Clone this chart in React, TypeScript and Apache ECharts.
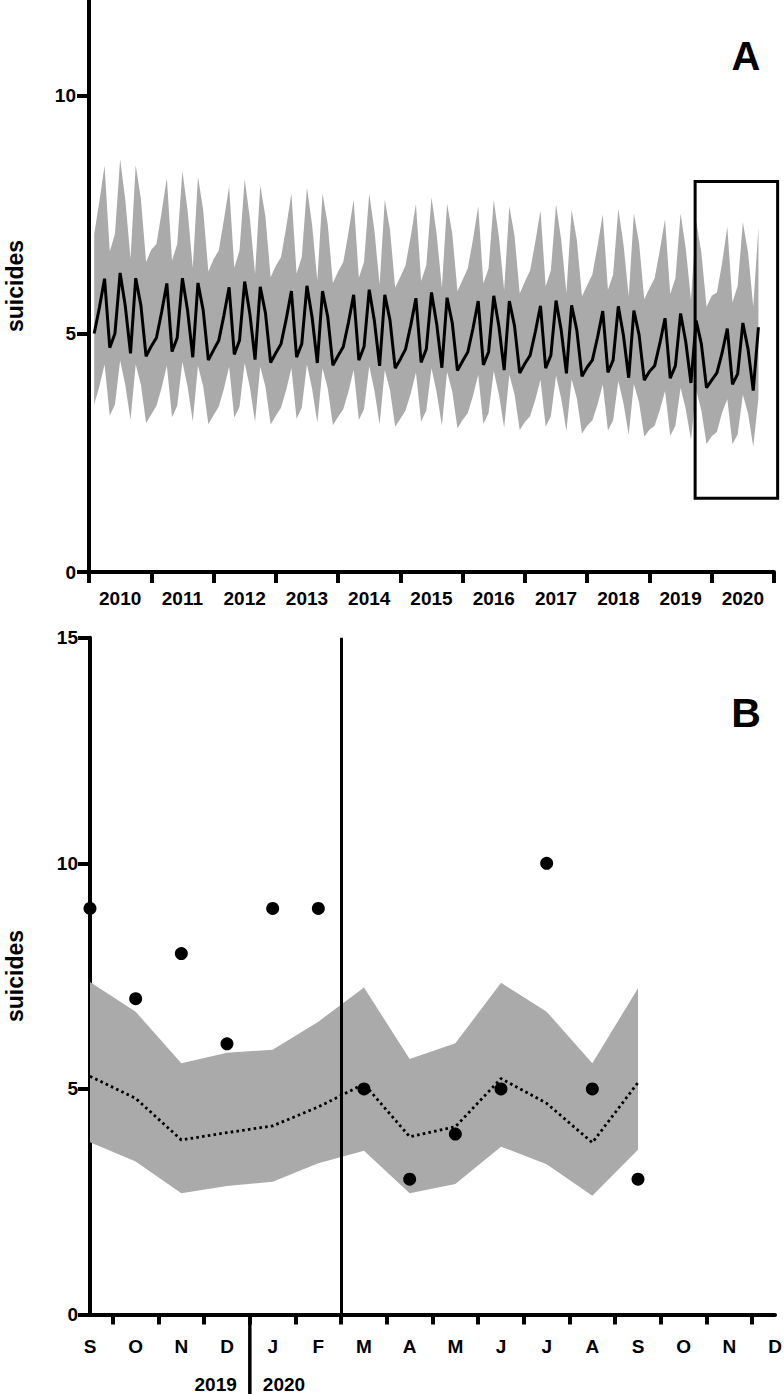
import React, { useEffect, useRef } from "react";
import * as echarts from "echarts";

const FONT = "'Liberation Sans', Arial, Helvetica, sans-serif";

const yearLabels = ["2010", "2011", "2012", "2013", "2014", "2015", "2016", "2017", "2018", "2019", "2020"];
const yTicksA = [0, 5, 10];

// Monthly expected values, Jan 2010 .. Sep 2020
const meanA = [
  5.01, 5.55, 6.16, 4.71, 5.01, 6.28, 5.58, 4.59, 6.17, 5.6, 4.53, 4.74,
  4.92, 5.46, 6.06, 4.63, 4.92, 6.17, 5.49, 4.51, 6.07, 5.5, 4.45, 4.66,
  4.86, 5.39, 5.98, 4.57, 4.86, 6.1, 5.42, 4.46, 5.99, 5.44, 4.4, 4.6,
  4.79, 5.31, 5.9, 4.51, 4.79, 6.01, 5.34, 4.39, 5.9, 5.36, 4.34, 4.54,
  4.73, 5.24, 5.82, 4.45, 4.73, 5.93, 5.27, 4.33, 5.82, 5.29, 4.28, 4.47,
  4.68, 5.18, 5.75, 4.4, 4.68, 5.87, 5.21, 4.29, 5.76, 5.23, 4.23, 4.43,
  4.62, 5.12, 5.69, 4.35, 4.62, 5.8, 5.15, 4.24, 5.69, 5.17, 4.18, 4.38,
  4.55, 5.04, 5.59, 4.28, 4.55, 5.7, 5.07, 4.17, 5.6, 5.08, 4.11, 4.3,
  4.45, 4.93, 5.48, 4.19, 4.45, 5.58, 4.96, 4.08, 5.49, 4.98, 4.03, 4.21,
  4.33, 4.8, 5.33, 4.07, 4.33, 5.43, 4.83, 3.97, 5.28, 4.79, 3.87, 4.03,
  4.18, 4.6, 5.11, 3.94, 4.16, 5.23, 4.68, 3.81, 5.14,
];

const upperA = [
  7.1, 7.78, 8.53, 6.73, 7.1, 8.67, 7.81, 6.58, 8.54, 7.84, 6.51, 6.77,
  6.89, 7.56, 8.28, 6.54, 6.89, 8.42, 7.59, 6.39, 8.3, 7.61, 6.31, 6.57,
  6.75, 7.4, 8.1, 6.39, 6.75, 8.25, 7.43, 6.26, 8.12, 7.46, 6.19, 6.43,
  6.61, 7.24, 7.95, 6.27, 6.61, 8.08, 7.28, 6.12, 7.95, 7.31, 6.07, 6.31,
  6.51, 7.13, 7.82, 6.18, 6.51, 7.95, 7.17, 6.03, 7.82, 7.19, 5.97, 6.2,
  6.44, 7.05, 7.73, 6.11, 6.44, 7.87, 7.09, 5.97, 7.74, 7.11, 5.9, 6.14,
  6.38, 6.99, 7.68, 6.06, 6.38, 7.81, 7.03, 5.92, 7.68, 7.06, 5.85, 6.1,
  6.33, 6.93, 7.59, 6.0, 6.33, 7.72, 6.97, 5.86, 7.6, 6.98, 5.79, 6.02,
  6.25, 6.85, 7.51, 5.93, 6.25, 7.63, 6.88, 5.79, 7.53, 6.91, 5.73, 5.96,
  6.17, 6.76, 7.41, 5.84, 6.17, 7.53, 6.79, 5.72, 7.37, 6.71, 5.57, 5.8,
  5.87, 6.49, 7.25, 5.66, 6.01, 7.35, 6.71, 5.57, 7.23,
];

const lowerA = [
  3.52, 3.9, 4.36, 3.28, 3.52, 4.44, 3.92, 3.19, 4.36, 3.93, 3.13, 3.31,
  3.49, 3.87, 4.33, 3.25, 3.49, 4.41, 3.89, 3.16, 4.33, 3.9, 3.11, 3.29,
  3.47, 3.85, 4.31, 3.24, 3.47, 4.39, 3.88, 3.15, 4.31, 3.89, 3.1, 3.28,
  3.45, 3.82, 4.28, 3.22, 3.45, 4.36, 3.84, 3.13, 4.28, 3.86, 3.08, 3.26,
  3.42, 3.79, 4.24, 3.19, 3.42, 4.32, 3.81, 3.1, 4.24, 3.82, 3.05, 3.22,
  3.39, 3.75, 4.19, 3.16, 3.39, 4.28, 3.77, 3.07, 4.2, 3.79, 3.02, 3.19,
  3.34, 3.7, 4.14, 3.11, 3.34, 4.22, 3.72, 3.03, 4.14, 3.73, 2.98, 3.15,
  3.27, 3.62, 4.04, 3.05, 3.27, 4.12, 3.64, 2.96, 4.05, 3.65, 2.91, 3.07,
  3.18, 3.52, 3.94, 2.97, 3.18, 4.01, 3.54, 2.88, 3.95, 3.56, 2.84, 2.99,
  3.07, 3.4, 3.8, 2.86, 3.07, 3.87, 3.42, 2.78, 3.82, 3.39, 2.69, 2.85,
  2.94, 3.35, 3.63, 2.69, 2.89, 3.72, 3.33, 2.63, 3.65,
];

// Panel B: Sep 2019 .. Dec 2020
const monthLabelsB = ["S", "O", "N", "D", "J", "F", "M", "A", "M", "J", "J", "A", "S", "O", "N", "D"];
const observedB = [9, 7, 8, 6, 9, 9, 5, 3, 4, 5, 10, 5, 3];
const yTicksB = [0, 5, 10, 15];

const axisText = { color: "#000", fontSize: 19, fontWeight: "bold" as const, fontFamily: FONT };
const axisLineStyle = { color: "#000", width: 4 };

function bandSeries(xs: number[], lo: number[], hi: number[], xAxisIndex: number, yAxisIndex: number) {
  return {
    type: "custom",
    xAxisIndex,
    yAxisIndex,
    silent: true,
    clip: false,
    z: 1,
    data: [[xs[0], lo[0]]],
    renderItem: (params: any, api: any) => {
      if (params.dataIndex !== 0) return null;
      const top = hi.map((v, i) => api.coord([xs[i], v]));
      const bot = lo.map((v, i) => api.coord([xs[i], v])).reverse();
      return { type: "polygon", shape: { points: top.concat(bot) }, style: { fill: "#aaaaaa" } };
    },
  };
}

export default function App() {
  const ref = useRef<HTMLDivElement>(null);
  useEffect(() => {
    document.body.style.margin = "0";
    const chart = echarts.init(ref.current!, null, { renderer: "svg" });

    const xsA = meanA.map((_, i) => i + 1);
    const nB = observedB.length;
    const meanB = meanA.slice(meanA.length - nB);
    const upperB = upperA.slice(upperA.length - nB);
    const lowerB = lowerA.slice(lowerA.length - nB);
    const xsB = observedB.map((_, i) => i);
    const tickValsB = monthLabelsB.slice(1).map((_, i) => i + 0.5);
    const labelValsB = monthLabelsB.map((_, i) => i);

    chart.setOption({
      animation: false,
      backgroundColor: "#fff",
      grid: [
        { left: 89, right: 10, top: 0.6, height: 571.4, containLabel: false, outerBoundsMode: "none" },
        { left: 90, right: 9, top: 637.7, height: 676.8, containLabel: false, outerBoundsMode: "none" },
      ],
      xAxis: [
        {
          type: "category",
          gridIndex: 0,
          data: yearLabels,
          boundaryGap: true,
          axisLine: { show: true, onZero: false, lineStyle: axisLineStyle },
          axisTick: { show: true, length: 11, interval: 0, alignWithLabel: false, lineStyle: axisLineStyle },
          axisLabel: { interval: 0, margin: 17, ...axisText },
          splitLine: { show: false },
        },
        { type: "value", gridIndex: 0, min: 0, max: 132, show: false },
        {
          type: "value",
          gridIndex: 1,
          min: 0,
          max: 15,
          axisLine: { show: true, onZero: false, lineStyle: axisLineStyle },
          axisTick: { show: true, length: 10, customValues: tickValsB, lineStyle: axisLineStyle },
          axisLabel: {
            customValues: labelValsB,
            margin: 22,
            formatter: (v: number) => monthLabelsB[Math.round(v)] ?? "",
            ...axisText,
          },
          splitLine: { show: false },
        },
      ],
      yAxis: [
        {
          type: "value",
          gridIndex: 0,
          min: 0,
          max: 12,
          axisLine: { show: true, onZero: false, lineStyle: axisLineStyle },
          axisTick: { show: true, length: 12, customValues: yTicksA, lineStyle: axisLineStyle },
          axisLabel: { customValues: yTicksA, margin: 13, ...axisText },
          splitLine: { show: false },
        },
        {
          type: "value",
          gridIndex: 1,
          min: 0,
          max: 15,
          axisLine: { show: true, onZero: false, lineStyle: axisLineStyle },
          axisTick: { show: true, length: 12, customValues: yTicksB, lineStyle: axisLineStyle },
          axisLabel: { customValues: yTicksB, margin: 12, ...axisText },
          splitLine: { show: false },
        },
      ],
      series: [
        bandSeries(xsA, lowerA, upperA, 1, 0),
        {
          type: "line",
          xAxisIndex: 1,
          yAxisIndex: 0,
          data: meanA.map((v, i) => [xsA[i], v]),
          showSymbol: false,
          symbol: "none",
          silent: true,
          z: 3,
          lineStyle: { color: "#000", width: 3 },
        },
        bandSeries(xsB, lowerB, upperB, 2, 1),
        {
          type: "line",
          xAxisIndex: 2,
          yAxisIndex: 1,
          data: meanB.map((v, i) => [xsB[i], v]),
          showSymbol: false,
          symbol: "none",
          silent: true,
          z: 3,
          lineStyle: { color: "#000", width: 2.8, type: [2.6, 3.2] },
        },
        {
          type: "scatter",
          xAxisIndex: 2,
          yAxisIndex: 1,
          data: observedB.map((v, i) => [xsB[i], v]),
          symbol: "circle",
          symbolSize: 13,
          clip: false,
          silent: true,
          z: 4,
          itemStyle: { color: "#000", opacity: 1 },
          markLine: {
            silent: true,
            symbol: ["none", "none"],
            label: { show: false },
            lineStyle: { color: "#000", width: 3, type: "solid", opacity: 1 },
            data: [{ xAxis: 5.5 }],
          },
        },
      ],
    });

    const px = (xi: number, v: number) => chart.convertToPixel({ xAxisIndex: xi }, v) as number;
    const py = (yi: number, v: number) => chart.convertToPixel({ yAxisIndex: yi }, v) as number;

    const bx0 = px(1, 116.8);
    const bx1 = px(1, 132.7);
    const by0 = py(0, 8.2);
    const by1 = py(0, 1.55);
    const xd = px(2, 3.5);
    const yAxisB = py(1, 0);

    const txt = (text: string, x: number, y: number, size: number, align: string, rotation = 0) => ({
      type: "text",
      x,
      y,
      rotation,
      silent: true,
      style: {
        text,
        fill: "#000",
        fontSize: size,
        fontWeight: "bold",
        fontFamily: FONT,
        align,
        verticalAlign: "middle",
        textAlign: align,
        textVerticalAlign: "middle",
      },
    });

    chart.setOption({
      graphic: [
        {
          type: "rect",
          silent: true,
          z: 10,
          shape: { x: bx0, y: by0, width: bx1 - bx0, height: by1 - by0 },
          style: { fill: "none", stroke: "#000", lineWidth: 3 },
        },
        {
          type: "line",
          silent: true,
          shape: { x1: xd, y1: yAxisB, x2: xd, y2: 1394 },
          style: { stroke: "#000", lineWidth: 3.5 },
        },
        txt("2019", xd - 13, 1384, 19, "right"),
        txt("2020", xd + 13, 1384, 19, "left"),
        txt("A", 746, 56, 40, "center"),
        txt("B", 746, 713, 41, "center"),
        txt("suicides", 15, 286, 23, "center", Math.PI / 2),
        txt("suicides", 15, 976, 23, "center", Math.PI / 2),
      ],
    });

    return () => chart.dispose();
  }, []);
  return <div ref={ref} style={{ width: 784, height: 1394 }} />;
}
